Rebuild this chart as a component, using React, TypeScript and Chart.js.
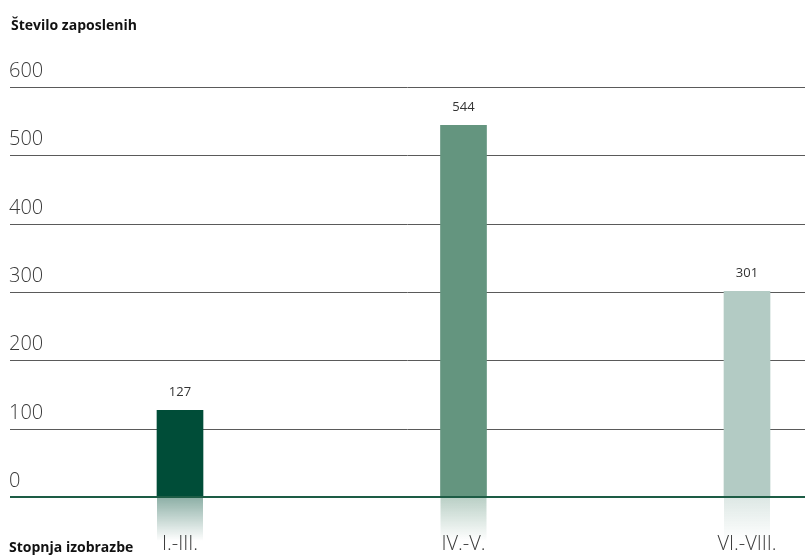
import React, { useEffect, useRef } from "react";
import { Chart, registerables } from "chart.js";

Chart.register(...registerables);

const categories = ["I.-III.", "IV.-V.", "VI.-VIII."];
const values = [127, 544, 301];
const barColors = ["#004d38", "#64957f", "#b3cbc4"];
const yTicks = [0, 100, 200, 300, 400, 500, 600];
const yTitle = "Število zaposlenih";
const xTitle = "Stopnja izobrazbe";

const FONT = "'Open Sans', 'DejaVu Sans', sans-serif";

function hexToRgba(hex: string, a: number) {
  const n = parseInt(hex.slice(1), 16);
  return `rgba(${(n >> 16) & 255},${(n >> 8) & 255},${n & 255},${a})`;
}

const decorPlugin = {
  id: "decor",
  beforeDatasetsDraw(chart: any) {
    const ctx = chart.ctx;
    const y = chart.scales.y;
    ctx.save();
    yTicks.forEach((t) => {
      const py = Math.round(y.getPixelForValue(t));
      if (t !== 0) {
        ctx.strokeStyle = "#5a5a5a";
        ctx.lineWidth = 1;
        ctx.beginPath();
        ctx.moveTo(10, py + 0.5);
        ctx.lineTo(chart.width, py + 0.5);
        ctx.stroke();
      }
      ctx.fillStyle = "#3a3a3a";
      ctx.font = `300 20px ${FONT}`;
      ctx.textAlign = "left";
      ctx.textBaseline = "alphabetic";
      ctx.fillText(String(t), 9, py - 10);
    });
    ctx.restore();
  },
  afterDatasetsDraw(chart: any) {
    const ctx = chart.ctx;
    const y = chart.scales.y;
    const zero = Math.round(y.getPixelForValue(0));
    const meta = chart.getDatasetMeta(0);
    ctx.save();
    meta.data.forEach((bar: any, i: number) => {
      const w = bar.width;
      const g = ctx.createLinearGradient(0, zero, 0, zero + 44);
      g.addColorStop(0, hexToRgba(barColors[i], 0.45));
      g.addColorStop(1, hexToRgba(barColors[i], 0));
      ctx.fillStyle = g;
      ctx.fillRect(bar.x - w / 2, zero, w, 44);
      ctx.fillStyle = "#333333";
      ctx.font = `400 13px ${FONT}`;
      ctx.textAlign = "center";
      ctx.textBaseline = "alphabetic";
      ctx.fillText(String(values[i]), bar.x, bar.y - 14);
    });
    ctx.strokeStyle = "#1d5c45";
    ctx.lineWidth = 2;
    ctx.beginPath();
    ctx.moveTo(10, zero);
    ctx.lineTo(chart.width, zero);
    ctx.stroke();

    ctx.fillStyle = "#111111";
    ctx.font = `700 14px ${FONT}`;
    ctx.textAlign = "left";
    ctx.textBaseline = "alphabetic";
    ctx.fillText(yTitle, 11, 30);
    ctx.fillText(xTitle, 9, 552);
    ctx.restore();
  },
};

export default function App() {
  const ref = useRef<HTMLCanvasElement>(null);
  useEffect(() => {
    if (!ref.current) return;
    const chart = new Chart(ref.current, {
      type: "bar",
      data: {
        labels: categories,
        datasets: [
          {
            data: values,
            backgroundColor: barColors,
            barThickness: 46,
            clip: false as any,
          },
        ],
      },
      options: {
        responsive: false,
        animation: false,
        layout: { padding: { top: 87, left: 180, right: 58, bottom: 0 } },
        plugins: { legend: { display: false }, tooltip: { enabled: false } },
        scales: {
          x: {
            offset: false,
            grid: { display: false, drawTicks: false },
            border: { display: false },
            ticks: {
              padding: 35,
              color: "#3a3a3a",
              font: { family: FONT, size: 20, weight: "300" as any },
              maxRotation: 0,
            },
            afterFit: (scale: any) => {
              scale.height = 59;
              scale.paddingLeft = 0;
              scale.paddingRight = 0;
            },
          },
          y: {
            display: false,
            min: 0,
            max: 600,
            ticks: { stepSize: 100 },
          },
        },
      },
      plugins: [decorPlugin],
    });
    return () => chart.destroy();
  }, []);
  return (
    <div style={{ position: "absolute", left: 0, top: 0 }}>
      <canvas ref={ref} width={805} height={556} />
    </div>
  );
}
